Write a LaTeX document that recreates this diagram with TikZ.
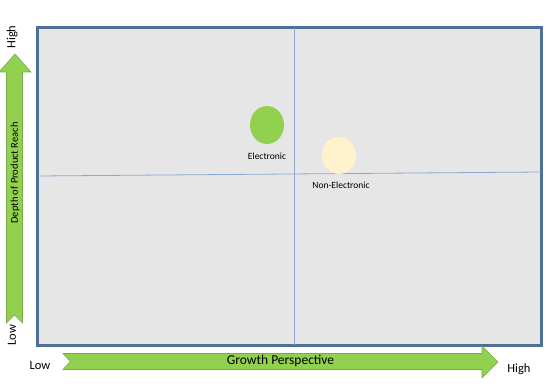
\documentclass[tikz,border=0pt]{standalone}
\usepackage{fontspec}
\setmainfont{Carlito}
\usepackage{tikz}
\usetikzlibrary{positioning,shapes.geometric}
\definecolor{boxfill}{HTML}{E7E6E6}
\definecolor{boxline}{HTML}{4F6F99}
\definecolor{gridline}{HTML}{8AAAD2}
\definecolor{axisgreen}{HTML}{92D050}
\definecolor{axisline}{HTML}{7BAA48}
\definecolor{cream}{HTML}{FFF2CC}
\tikzset{
	axislabel/.style={font=\fontsize{12.5}{14}\selectfont,inner sep=0pt},
	dotlabel/.style={font=\fontsize{9.5}{11}\selectfont,inner sep=0pt},
	blob/.style={ellipse,inner sep=0pt,minimum width=34pt,minimum height=38pt}
}
\begin{document}
\begin{tikzpicture}[x=1pt,y=-1pt]
	\useasboundingbox (0,0) rectangle (560,390);
	% matrix
	\node[draw=boxline,line width=1.6pt,fill=boxfill,minimum width=503pt,minimum height=317pt,inner sep=0pt] (grid) at (289.5,186.5) {};
	\coordinate (vtop) at (294,28);
	\coordinate (vbot) at (294,345);
	\coordinate (hleft) at (38,176);
	\coordinate (hright) at (541,172);
	\draw[gridline,line width=0.8pt] (vtop) -- (vbot);
	\draw[gridline,line width=0.8pt] (hleft) -- (hright);
	\draw[boxline,line width=1.6pt] (grid.north west) rectangle (grid.south east);

	% axes
	\draw[axisline,fill=axisgreen,line width=0.6pt] (15,54) -- (31,72) -- (22.5,72) -- (22.5,323) -- (14.5,315) -- (6.5,323) -- (6.5,72) -- (-1,72) -- cycle;
	\draw[axisline,fill=axisgreen,line width=0.6pt] (498,362) -- (482,378) -- (482,369.5) -- (63,369.5) -- (70.5,361.5) -- (63,353.5) -- (482,353.5) -- (482,346) -- cycle;

	\begin{scope}[every node/.style={axislabel}]
		\node[rotate=90] (yhigh) at (12,37) {High};
		\node[rotate=90] (ylow) at (12,335) {Low};
		\node[rotate=90,font=\fontsize{10.5}{12}\selectfont] (ytitle) at (15,173) {Depth of Product Reach};
		\node (xlow) at (40,366) {Low};
		\node (xhigh) at (519,369) {High};
		\node[font=\fontsize{13.5}{15}\selectfont] (xtitle) at (280.5,361) {Growth Perspective};
	\end{scope}

	% segments
	\node[blob,fill=axisgreen] (elec) at (267,125) {};
	\node[dotlabel,below=9pt of elec] (eleclabel) {Electronic};
	\node[blob,fill=cream,minimum height=37pt] (nonelec) at (339,155.5) {};
	\node[dotlabel,below=8pt of nonelec,xshift=2pt] (noneleclabel) {Non-Electronic};
\end{tikzpicture}
\end{document}
